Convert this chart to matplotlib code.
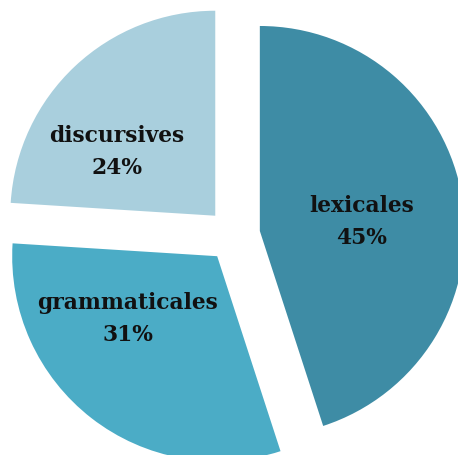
import matplotlib.pyplot as plt

categories = ['lexicales', 'grammaticales', 'discursives']
shares = [45, 31, 24]
colors = ['#3e8ca5', '#4bacc6', '#a9cfdd']

# where each label sits, in axes data units (pie radius = 1)
label_pos = [(0.627, 0.07), (-0.515, -0.403), (-0.568, 0.41)]

fig = plt.figure(figsize=(4.58, 4.56), dpi=100)
ax = fig.add_axes([0, 0, 1, 1])

ax.pie(shares, colors=colors, startangle=90, counterclock=False,
       explode=[0.13] * len(shares), radius=1.0,
       wedgeprops=dict(linewidth=0))

for name, val, (x, y) in zip(categories, shares, label_pos):
    ax.text(x, y, f"{name}\n{val}%", ha='center', va='center',
            fontsize=15.7, fontweight='bold', family='DejaVu Serif',
            linespacing=1.6, color='#111111')

ax.set_xlim(-1.139, 1.095)
ax.set_ylim(-1.0725, 1.152)
ax.set_aspect('equal')
ax.axis('off')

fig.savefig('out.png', dpi=100)
